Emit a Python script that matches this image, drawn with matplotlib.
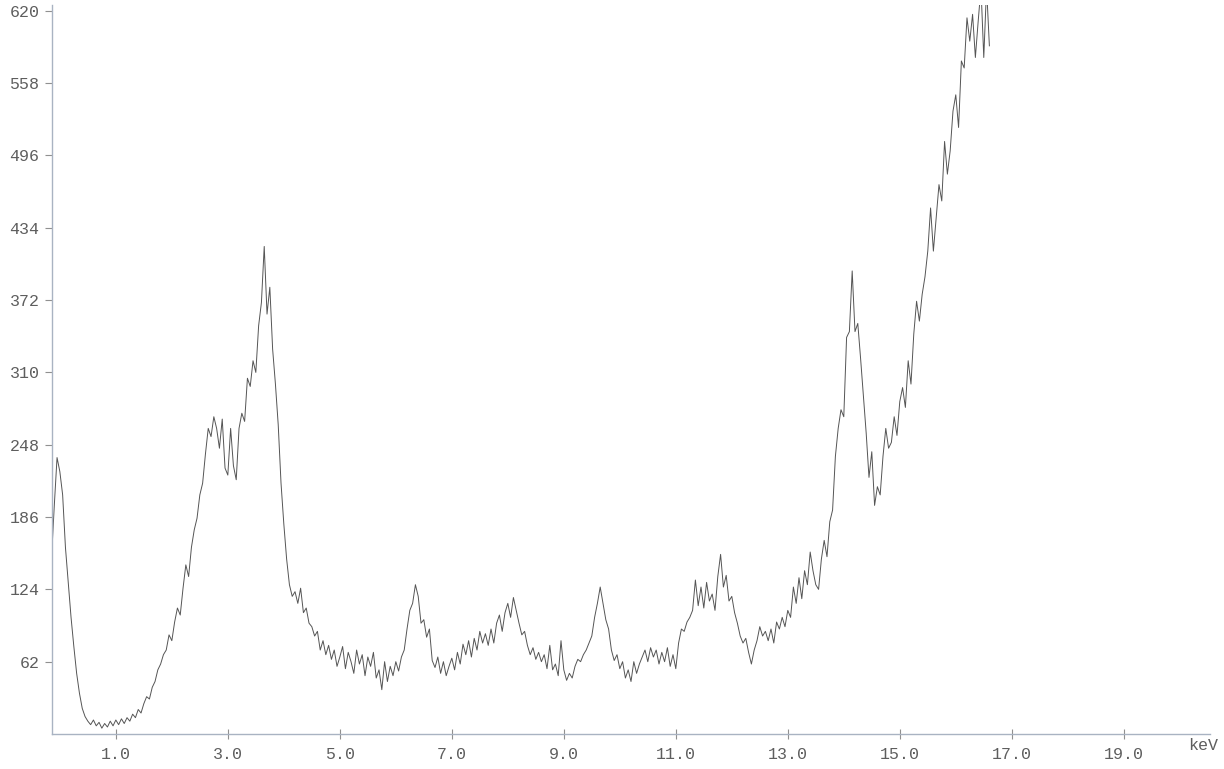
import numpy as np
import matplotlib
matplotlib.use('Agg')
import matplotlib.pyplot as plt

# spectrum channels: first channel energy and channel width (keV)
start_kev = -0.15
step_kev = 0.05

counts = [
    150, 195, 237, 225, 205, 160, 130, 100, 75, 52,
    35, 22, 15, 11, 8, 12, 7, 10, 5, 9,
    6, 11, 7, 12, 8, 13, 9, 14, 11, 17,
    14, 21, 18, 26, 32, 30, 40, 45, 55, 60,
    68, 72, 85, 80, 96, 108, 102, 125, 145, 135,
    160, 175, 185, 205, 215, 240, 262, 255, 272, 262,
    245, 270, 228, 222, 262, 230, 218, 262, 275, 268,
    305, 298, 320, 310, 350, 370, 418, 360, 383, 330,
    300, 265, 215, 180, 150, 128, 118, 122, 112, 125,
    104, 108, 95, 92, 84, 88, 72, 80, 68, 76,
    64, 72, 58, 66, 75, 56, 70, 62, 52, 72,
    60, 68, 50, 66, 58, 70, 48, 55, 38, 62,
    45, 58, 50, 62, 54, 66, 72, 90, 106, 112,
    128, 118, 95, 98, 83, 90, 63, 57, 66, 52,
    62, 50, 58, 65, 55, 70, 60, 77, 68, 80,
    66, 82, 72, 88, 78, 86, 76, 90, 78, 95,
    102, 88, 104, 112, 100, 117, 106, 95, 85, 88,
    76, 68, 74, 64, 70, 62, 68, 56, 76, 55,
    60, 50, 80, 55, 46, 52, 48, 58, 64, 62,
    68, 72, 78, 84, 100, 112, 126, 112, 98, 90,
    72, 63, 68, 56, 62, 48, 55, 45, 62, 52,
    60, 66, 72, 62, 74, 66, 72, 60, 70, 62,
    74, 58, 68, 56, 78, 90, 88, 96, 100, 106,
    132, 110, 126, 108, 130, 114, 120, 106, 135, 154,
    126, 136, 114, 118, 104, 95, 84, 78, 82, 70,
    60, 72, 80, 92, 84, 88, 80, 90, 78, 96,
    90, 100, 92, 106, 100, 126, 112, 134, 116, 140,
    128, 156, 140, 128, 124, 150, 166, 152, 182, 192,
    238, 262, 278, 272, 340, 345, 397, 345, 352, 322,
    290, 258, 220, 242, 196, 212, 205, 238, 262, 245,
    250, 272, 256, 285, 297, 280, 320, 300, 343, 371,
    354, 377, 392, 414, 451, 414, 442, 471, 457, 508,
    480, 500, 534, 548, 520, 577, 571, 614, 594, 617,
    580, 611, 640, 580, 640, 590,
]

xticks = [1.0, 3.0, 5.0, 7.0, 9.0, 11.0, 13.0, 15.0, 17.0, 19.0]
yticks = [62, 124, 186, 248, 310, 372, 434, 496, 558, 620]

energy = start_kev + step_kev * np.arange(len(counts))

font = 'Liberation Mono'
txt_color = '#5e5e5e'
axis_color = '#a9b3c2'

fig = plt.figure(figsize=(12.24, 7.69), dpi=100)
ax = fig.add_axes([52 / 1224, 35 / 769, 1158 / 1224, 729 / 769])

ax.plot(energy, counts, color='#555555', lw=0.7)

ax.set_xlim(-0.14, 20.54)
ax.set_ylim(0, 625)

for side in ['top', 'right']:
    ax.spines[side].set_visible(False)
for side in ['left', 'bottom']:
    ax.spines[side].set_color(axis_color)
    ax.spines[side].set_linewidth(1.0)

ax.set_xticks(xticks)
ax.set_xticklabels(['%.1f' % v for v in xticks])
ax.set_yticks(yticks)
ax.set_yticklabels([str(v) for v in yticks])
ax.tick_params(axis='x', direction='inout', length=7, width=0.8,
               color='#909090', pad=6, labelsize=12, labelcolor=txt_color)
ax.tick_params(axis='y', direction='out', length=5, width=0.8,
               color='#909090', pad=4, labelsize=12, labelcolor=txt_color)
for lab in ax.get_xticklabels() + ax.get_yticklabels():
    lab.set_family(font)

fig.text(1203 / 1224, 1 - 746 / 769, 'keV', ha='center', va='center',
         family=font, fontsize=12, color=txt_color)

plt.savefig('out.png', dpi=100)
